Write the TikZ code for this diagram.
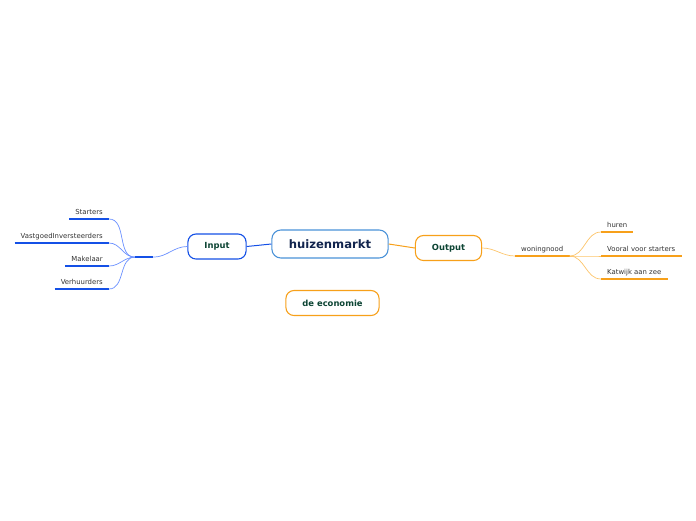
\documentclass[tikz,border=0pt]{standalone}
\usepackage{fontspec}
\setmainfont{DejaVu Sans}
\usepackage{xcolor}
\usepackage{tikz}
\usetikzlibrary{positioning}

\definecolor{mapblue}{HTML}{1450E6}
\definecolor{lineblue}{HTML}{6A90FF}
\definecolor{rootblue}{HTML}{4A92D8}
\definecolor{maporange}{HTML}{F7A01A}
\definecolor{lineorange}{HTML}{FCC46A}
\definecolor{topicgreen}{HTML}{0C4433}
\definecolor{rootnavy}{HTML}{12254E}

\begin{document}
\begin{tikzpicture}[
    x=1pt, y=-1pt,
    root/.style={rectangle, rounded corners=9pt, draw=rootblue, line width=1.1pt, fill=white, minimum height=28pt, inner xsep=17pt, font=\fontsize{11.6}{13}\selectfont\bfseries, text=rootnavy},
    topic/.style={rectangle, rounded corners=8pt, draw=#1, line width=1.1pt, fill=white, minimum height=25pt, inner xsep=16.5pt, font=\fontsize{8.4}{9}\selectfont\bfseries, text=topicgreen},
    leaf/.style={inner xsep=6pt, inner ysep=3pt, text height=1.5ex, text depth=0.3ex, font=\fontsize{6.9}{8}\selectfont, text=black!80},
    bline/.style={mapblue, line width=2pt},
    oline/.style={maporange, line width=2pt},
    bconn/.style={lineblue, line width=0.7pt},
    oconn/.style={lineorange, line width=0.7pt}
]
\useasboundingbox (0,0) rectangle (696,520);

% Central topic
\node[root] (huis) at (330,244) {huizenmarkt};

% Main topics
\node[topic=mapblue] (input) at (217,246.5) {Input};
\node[topic=maporange] (output) at (448.5,248) {Output};
\node[topic=maporange] (econ) at (332.5,303) {de economie};

% Input branch
\node[leaf, minimum width=18pt] (hub) at (144,249) {};
\node[leaf, anchor=south east] (start) at (109,219) {Starters};
\node[leaf, anchor=south east] (vast) at (109,243) {VastgoedInversteerders};
\node[leaf, anchor=south east] (makel) at (109,266) {Makelaar};
\node[leaf, anchor=south east] (verh) at (109,289) {Verhuurders};

% Output branch
\node[leaf, anchor=south west] (woning) at (515,256) {woningnood};
\node[leaf, anchor=south west] (huren) at (601,232) {huren};
\node[leaf, anchor=south west] (vooral) at (601,256) {Vooral voor starters};
\node[leaf, anchor=south west] (katw) at (601,279) {Katwijk aan zee};

% Underlines
\draw[bline] (hub.south west) -- (hub.south east);
\draw[bline] (start.south west) -- (start.south east);
\draw[bline] (vast.south west) -- (vast.south east);
\draw[bline] (makel.south west) -- (makel.south east);
\draw[bline] (verh.south west) -- (verh.south east);
\draw[oline] (woning.south west) -- (woning.south east);
\draw[oline] (huren.south west) -- (huren.south east);
\draw[oline] (vooral.south west) -- (vooral.south east);
\draw[oline] (katw.south west) -- (katw.south east);

% Connectors - centre
\draw[mapblue, line width=1pt] (input.east) -- (huis.west);
\draw[maporange, line width=1pt] (huis.east) -- (output.west);

% Connectors - input side
\draw[bconn] (input.west) to[out=180, in=0] (hub.south east);
\draw[bconn] (hub.south west) to[out=180, in=0] (start.south east);
\draw[bconn] (hub.south west) to[out=180, in=0] (vast.south east);
\draw[bconn] (hub.south west) to[out=180, in=0] (makel.south east);
\draw[bconn] (hub.south west) to[out=180, in=0] (verh.south east);

% Connectors - output side
\draw[oconn] (output.east) to[out=0, in=180] (woning.south west);
\draw[oconn] (woning.south east) to[out=0, in=180] (huren.south west);
\draw[oconn] (woning.south east) to[out=0, in=180] (vooral.south west);
\draw[oconn] (woning.south east) to[out=0, in=180] (katw.south west);

\end{tikzpicture}
\end{document}
